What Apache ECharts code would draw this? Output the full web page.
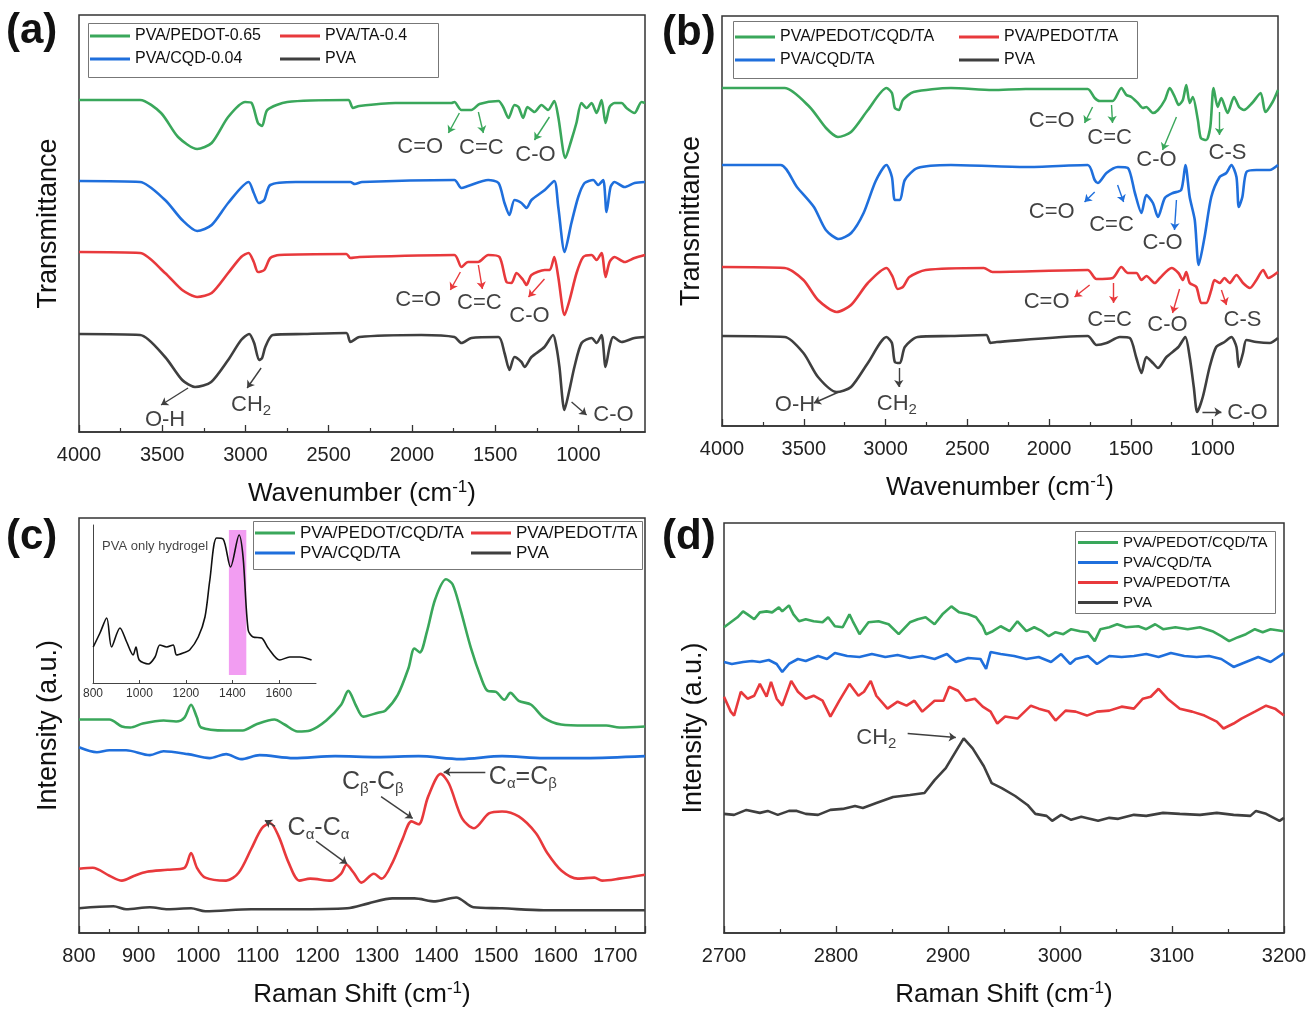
<!DOCTYPE html>
<html>
<head>
<meta charset="utf-8">
<script src="https://cdn.jsdelivr.net/npm/echarts@6/dist/echarts.min.js"></script>
<style>
  html, body { margin: 0; padding: 0; background: #fff; }
  #chart { width: 1312px; height: 1011px; }
</style>
</head>
<body>
<div id="chart"></div>
<script>
// ---- (a) FTIR, y = height above x axis (px units)
const aGreen = [[4000,332],[3633,332],[3507,319],[3405,295],[3290,283],[3203,289],[3104,315],[3002,330],[2963,329],[2925,309],[2900,306],[2869,322],[2749,330],[2382,332],[2355,324],[2316,326],[2100,329],[1944,329],[1763,329],[1745,330],[1703,322],[1643,322],[1594,328],[1480,331],[1452,325],[1420,314],[1384,327],[1360,325],[1332,314],[1306,325],[1264,320],[1222,327],[1182,322],[1145,331],[1121,315],[1078,274],[1042,292],[1012,309],[982,329],[951,324],[921,329],[891,319],[861,332],[837,309],[813,325],[783,329],[741,329],[711,324],[663,319],[621,330],[600,329]]
const aBlue = [[4000,251],[3633,250],[3483,232],[3380,212],[3290,201],[3203,207],[3104,229],[2981,250],[2950,239],[2920,229],[2887,232],[2851,247],[2697,250],[2370,250],[2343,248],[2300,250],[1745,252],[1703,244],[1663,246],[1542,252],[1480,249],[1444,229],[1414,217],[1384,232],[1342,229],[1312,224],[1282,232],[1202,242],[1145,251],[1121,225],[1083,180],[1042,209],[1001,235],[963,249],[911,252],[881,247],[851,252],[831,220],[807,245],[783,250],[723,245],[663,249],[600,250]]
const aRed = [[4000,180],[3633,179],[3483,159],[3380,142],[3290,135],[3203,139],[3104,159],[3026,175],[2981,179],[2950,170],[2925,160],[2887,162],[2851,174],[2797,177],[2394,178],[2370,174],[2316,175],[1745,177],[1703,165],[1663,170],[1603,170],[1542,177],[1474,175],[1432,150],[1402,149],[1372,159],[1332,152],[1312,147],[1282,157],[1202,162],[1172,162],[1145,175],[1121,155],[1083,117],[1053,132],[1011,159],[971,175],[921,177],[891,172],[861,179],[837,155],[813,170],[783,175],[723,170],[663,174],[600,177]]
const aBlack = [[4000,98],[3633,97],[3483,75],[3380,52],[3303,45],[3206,50],[3104,72],[3026,92],[2978,98],[2948,89],[2918,72],[2900,74],[2881,85],[2836,97],[2647,98],[2394,99],[2370,90],[2316,95],[1944,97],[1745,95],[1703,89],[1643,94],[1480,95],[1444,79],[1414,62],[1384,75],[1342,70],[1324,65],[1282,75],[1204,85],[1152,97],[1132,85],[1114,65],[1084,22],[1054,42],[1024,65],[981,89],[921,94],[891,89],[861,97],[837,65],[813,85],[791,95],[741,90],[663,94],[600,95]]

// ---- (b) FTIR
const bGreen = [[4000,338],[3617,338],[3464,319],[3364,298],[3291,289],[3211,294],[3108,316],[2994,338],[2961,333],[2943,318],[2918,316],[2894,326],[2829,334],[2600,338],[2346,336],[2143,337],[1764,337],[1721,328],[1690,325],[1611,325],[1558,338],[1527,331],[1497,329],[1457,323],[1426,318],[1405,319],[1365,313],[1334,316],[1292,326],[1262,338],[1231,329],[1207,321],[1182,326],[1161,341],[1140,323],[1121,329],[1090,306],[1072,288],[1039,286],[1014,299],[994,338],[969,319],[947,328],[908,313],[869,329],[838,319],[808,316],[758,323],[706,333],[677,314],[633,324],[600,336]]
const bBlue = [[4000,261],[3642,261],[3542,239],[3438,219],[3365,196],[3286,187],[3210,193],[3134,213],[3060,245],[2994,261],[2961,249],[2943,226],[2912,226],[2882,246],[2804,258],[2600,261],[2143,259],[1764,261],[1721,246],[1702,243],[1649,253],[1579,259],[1518,258],[1475,233],[1435,213],[1405,231],[1365,223],[1334,209],[1292,228],[1243,233],[1192,236],[1166,261],[1140,229],[1109,206],[1085,161],[1049,189],[1008,229],[957,249],[916,253],[885,261],[854,249],[840,219],[818,229],[793,254],[732,256],[651,256],[600,261]]
const bRed = [[4000,159],[3617,158],[3502,146],[3413,126],[3299,114],[3211,121],[3108,143],[2994,158],[2956,149],[2926,137],[2894,139],[2854,149],[2754,156],[2399,158],[2346,154],[1764,156],[1710,147],[1611,148],[1558,159],[1518,153],[1466,153],[1435,146],[1405,150],[1353,143],[1322,148],[1251,158],[1209,153],[1182,146],[1161,154],[1140,143],[1099,139],[1069,123],[1039,123],[1008,136],[988,146],[957,143],[927,148],[896,143],[854,151],[814,143],[772,138],[732,146],[691,156],[659,148],[600,154]]
const bBlack = [[4000,90],[3617,89],[3502,73],[3413,49],[3299,34],[3211,39],[3108,63],[2994,89],[2961,83],[2943,64],[2912,63],[2882,79],[2804,89],[2600,90],[2384,91],[2358,83],[2320,84],[1764,90],[1710,81],[1649,83],[1567,89],[1506,88],[1466,68],[1435,53],[1405,69],[1365,63],[1334,58],[1282,69],[1209,79],[1167,89],[1140,69],[1115,39],[1094,14],[1060,29],[1018,59],[978,79],[927,84],[885,89],[854,79],[840,59],[814,73],[793,86],[732,84],[651,83],[600,88]]

// ---- (c) Raman 800-1750
const cGreen = [[800,216],[851,216],[872,209],[886,208],[907,212],[942,215],[963,214],[977,218],[988,231],[998,218],[1005,208],[1047,205],[1075,205],[1097,211],[1128,216],[1145,211],[1167,204],[1188,205],[1215,215],[1240,231],[1252,245],[1265,230],[1277,219],[1302,223],[1314,225],[1335,241],[1353,268],[1363,288],[1372,284],[1384,305],[1398,338],[1416,358],[1427,353],[1440,328],[1458,288],[1475,258],[1486,245],[1500,244],[1514,236],[1524,243],[1538,235],[1559,231],[1580,218],[1609,211],[1650,210],[1685,210],[1707,208],[1750,209]]
const cBlue = [[800,188],[830,183],[851,185],[879,185],[919,180],[942,184],[983,181],[1019,177],[1047,181],[1072,176],[1103,180],[1160,177],[1230,179],[1300,178],[1370,179],[1440,176],[1510,179],[1580,177],[1650,177],[1750,179]]
const cRed = [[800,65],[823,66],[851,58],[872,53],[893,58],[914,62],[949,64],[977,66],[988,81],[998,66],[1012,56],[1047,53],[1068,61],[1089,85],[1107,106],[1121,111],[1135,98],[1152,71],[1170,53],[1188,55],[1223,53],[1240,60],[1249,69],[1261,61],[1274,51],[1295,60],[1308,55],[1326,71],[1343,95],[1358,113],[1370,110],[1386,138],[1407,161],[1421,151],[1443,116],[1463,106],[1488,121],[1510,123],[1538,118],[1567,101],[1586,81],[1610,63],[1637,55],[1665,56],[1678,53],[1707,55],[1750,59]]
const cBlack = [[800,25],[858,27],[879,24],[919,26],[949,24],[988,25],[1012,22],[1089,24],[1160,24],[1250,25],[1286,30],[1326,35],[1363,35],[1398,32],[1433,36],[1462,26],[1510,25],[1580,23],[1750,23]]

// inset of (c): PVA only hydrogel
const insetPVA = [[801,36],[830,50],[859,65],[880,36],[916,55],[945,41],[973,28],[985,36],[999,23],[1038,19],[1067,26],[1088,38],[1117,36],[1145,38],[1160,28],[1188,30],[1216,33],[1253,46],[1282,66],[1303,103],[1332,145],[1360,144],[1392,116],[1429,148],[1446,126],[1468,53],[1489,46],[1526,45],[1554,35],[1604,23],[1647,26],[1690,26],[1741,23]]
const insetBand = [1385, 1460]

// ---- (d) Raman 2700-3200
const dGreen = [[2700,308],[2706,313],[2712,318],[2717,324],[2721,321],[2727,316],[2732,323],[2738,324],[2743,323],[2749,328],[2752,324],[2758,330],[2762,321],[2767,314],[2773,316],[2780,314],[2788,313],[2793,318],[2799,309],[2806,308],[2812,321],[2815,314],[2821,301],[2829,313],[2838,314],[2847,311],[2856,301],[2866,313],[2873,316],[2880,318],[2888,311],[2895,321],[2903,329],[2910,323],[2918,321],[2925,318],[2931,309],[2934,301],[2940,304],[2947,309],[2955,304],[2962,314],[2970,304],[2977,308],[2984,304],[2990,299],[2996,303],[3003,301],[3010,306],[3018,304],[3025,303],[3031,294],[3036,306],[3044,308],[3051,311],[3059,308],[3070,309],[3077,306],[3085,311],[3092,306],[3103,308],[3114,306],[3125,308],[3136,304],[3144,299],[3151,294],[3159,298],[3166,301],[3174,306],[3181,303],[3188,306],[3200,304]]
const dBlue = [[2700,273],[2707,271],[2717,273],[2725,274],[2732,273],[2740,275],[2747,271],[2752,263],[2758,271],[2766,276],[2773,274],[2784,279],[2792,276],[2799,282],[2810,279],[2821,278],[2832,281],[2844,278],[2855,280],[2866,277],[2877,279],[2888,276],[2899,281],[2907,273],[2918,277],[2929,276],[2934,266],[2938,283],[2947,281],[2959,279],[2970,276],[2981,278],[2992,273],[3001,281],[3009,271],[3014,276],[3025,279],[3033,271],[3044,279],[3055,278],[3066,279],[3077,281],[3088,278],[3099,282],[3111,279],[3122,278],[3133,279],[3144,276],[3155,268],[3166,273],[3177,278],[3188,273],[3200,282]]
const dRed = [[2700,238],[2706,223],[2709,219],[2715,243],[2721,236],[2727,239],[2732,251],[2738,238],[2742,253],[2747,236],[2752,229],[2760,254],[2766,243],[2773,236],[2780,239],[2788,234],[2795,218],[2803,234],[2812,251],[2820,239],[2825,243],[2831,254],[2836,239],[2846,226],[2855,233],[2863,229],[2870,234],[2877,223],[2888,234],[2896,234],[2901,248],[2909,244],[2916,234],[2924,236],[2931,228],[2938,223],[2944,211],[2951,218],[2962,216],[2974,229],[2981,226],[2990,223],[2996,214],[3005,224],[3014,223],[3024,219],[3033,223],[3044,224],[3055,228],[3066,226],[3074,236],[3081,238],[3088,246],[3096,236],[3107,226],[3118,223],[3129,219],[3140,213],[3146,206],[3155,211],[3162,216],[3174,223],[3184,229],[3192,226],[3200,219]]
const dBlack = [[2700,120],[2709,119],[2720,124],[2732,121],[2739,123],[2748,119],[2758,123],[2765,123],[2773,120],[2784,119],[2795,124],[2806,125],[2817,128],[2824,126],[2836,131],[2851,137],[2866,139],[2879,141],[2888,154],[2898,166],[2907,183],[2914,196],[2922,186],[2932,168],[2939,151],[2948,146],[2960,138],[2971,129],[2978,120],[2988,118],[2993,113],[3001,119],[3010,114],[3019,117],[3034,113],[3044,116],[3052,115],[3066,119],[3077,118],[3092,121],[3107,120],[3125,119],[3140,121],[3155,119],[3170,118],[3175,123],[3184,120],[3196,113],[3200,116]]

// ---- tick labels
const ftirTicks = [1000, 1500, 2000, 2500, 3000, 3500, 4000]
const ftirMinor = [750, 1250, 1750, 2250, 2750, 3250, 3750]

// ---- annotations: [x, y, text] and arrows [[x1,y1],[x2,y2], colour key]
const aNotes = [[1950,285,'C=O'],[1583,284,'C=C'],[1258,277,'C-O'],[1962,132,'C=O'],[1595,129,'C=C'],[1294,116,'C-O'],[3483,12,'O-H'],[2966,27,'CH{s|2}'],[789,17,'C-O']]
const aArrows = [[[1715,319],[1781,299],'green'],[[1601,320],[1571,299],'green'],[[1174,315],[1264,292],'green'],[[1709,160],[1769,142],'red'],[[1601,167],[1577,143],'red'],[[1204,153],[1300,135],'red'],[[3345,44],[3507,27],'black'],[[2906,64],[2990,44],'black'],[[1041,30],[951,17],'black']]
const bNotes = [[1984,305,'C=O'],[1630,288,'C=C'],[1343,266,'C-O'],[909,273,'C-S'],[1984,214,'C=O'],[1618,201,'C=C'],[1306,183,'C-O'],[2015,124,'C=O'],[1630,106,'C=C'],[1276,101,'C-O'],[817,106,'C-S'],[3554,21,'O-H'],[2931,22,'CH{s|2}'],[787,13,'C-O']]
const bArrows = [[[1734,319],[1783,303],'green'],[[1618,321],[1612,303],'green'],[[1221,309],[1306,276],'green'],[[958,314],[958,291],'green'],[[1721,234],[1783,224],'blue'],[[1581,241],[1544,224],'blue'],[[1221,226],[1233,196],'blue'],[[1752,141],[1844,129],'red'],[[1605,143],[1605,123],'red'],[[1202,137],[1245,113],'red'],[[946,136],[915,121],'red'],[[3286,34],[3438,23],'black'],[[2919,58],[2919,39],'black'],[[1062,14],[946,14],'black']]
const cNotes = [[1202,106,'C{s|α}-C{s|α}'],[1293,153,'C{s|β}-C{s|β}'],[1545,158,'C{s|α}=C{s|β}']]
const cArrows = [[[1129,108],[1112,114],'black'],[[1198,93],[1250,70],'black'],[[1307,138],[1360,116],'black'],[[1482,163],[1412,163],'black']]
const insetNotes = [[1067,137,'PVA only hydrogel']]
const dNotes = [[2836,196,'CH{s|2}']]
const dArrows = [[[2864,201],[2907,197],'black']]

const COLORS = { green: '#3aa75b', blue: '#1f6fdc', red: '#e8393c', black: '#3f3f3f' }
const FONT = '"Liberation Sans", Arial, sans-serif'
const N = { g: 'PVA/PEDOT/CQD/TA', b: 'PVA/CQD/TA', r: 'PVA/PEDOT/TA', k: 'PVA' }

const chart = echarts.init(document.getElementById('chart'))

const line = (name, data, color, gi, smooth) => ({
  type: 'line', name, data, xAxisIndex: gi, yAxisIndex: gi,
  symbol: 'none', showSymbol: false, smooth: smooth,
  lineStyle: { width: 2.6, color }, itemStyle: { color }, z: 3
})

const RICH = {
  s: { fontSize: 15, lineHeight: 15, verticalAlign: 'bottom', fontFamily: FONT, color: '#111' }
}
const notes = (data, gi, size) => ({
  type: 'scatter', xAxisIndex: gi, yAxisIndex: gi, data, symbolSize: 0, silent: true, z: 6,
  label: { show: true, position: 'inside', formatter: p => p.value[2], fontSize: size, lineHeight: size + 4, color: '#111', fontFamily: FONT, rich: RICH }
})
const arrows = (data, gi) => ({
  type: 'lines', coordinateSystem: 'cartesian2d', xAxisIndex: gi, yAxisIndex: gi, silent: true, z: 6,
  symbol: ['none', 'arrow'], symbolSize: 7,
  lineStyle: { width: 1.4, opacity: 1 },
  data: data.map(a => ({ coords: [a[0], a[1]], lineStyle: { color: COLORS[a[2]] } }))
})

const plain = v => String(v)
const axisTxt = { fontSize: 20, color: '#222', fontFamily: FONT, formatter: plain }
const nameTxt = {
  fontSize: 26, color: '#111', fontFamily: FONT, lineHeight: 30,
  rich: { sup: { fontSize: 17, lineHeight: 17, verticalAlign: 'top', fontFamily: FONT, color: '#111' } }
}
const axLine = { show: true, onZero: false, lineStyle: { color: '#333', width: 1.5 } }

const ftirX = (gi) => ({
  gridIndex: gi, type: 'value', min: 600, max: 4000, inverse: true,
  axisLine: axLine,
  axisTick: { inside: true, length: 7, customValues: ftirTicks, lineStyle: { color: '#333', width: 1.3 } },
  axisLabel: { customValues: ftirTicks, margin: 13, ...axisTxt },
  splitLine: { show: false },
  name: 'Wavenumber (cm{sup|-1})', nameLocation: 'middle', nameGap: 47, nameTextStyle: nameTxt
})
const ftirMinorX = (gi) => ({
  gridIndex: gi, type: 'value', min: 600, max: 4000, inverse: true, position: 'bottom',
  axisLine: { show: false },
  axisTick: { show: true, inside: true, length: 4, customValues: ftirMinor, lineStyle: { color: '#333', width: 1.2 } },
  axisLabel: { show: false, customValues: ftirMinor },
  splitLine: { show: false }
})
const ramanX = (gi, min, max) => ({
  gridIndex: gi, type: 'value', min, max, interval: 100,
  axisLine: axLine,
  axisTick: { inside: true, length: 7, lineStyle: { color: '#333', width: 1.3 } },
  minorTick: { show: true, splitNumber: 2, length: 4, lineStyle: { color: '#333', width: 1.2 } },
  axisLabel: { margin: 13, showMaxLabel: max % 100 === 0, ...axisTxt },
  splitLine: { show: false },
  name: 'Raman Shift (cm{sup|-1})', nameLocation: 'middle', nameGap: 47, nameTextStyle: nameTxt
})
const hiddenY = (gi, max, name) => ({
  gridIndex: gi, type: 'value', min: 0, max,
  axisLine: { show: false }, axisTick: { show: false }, axisLabel: { show: false }, splitLine: { show: false },
  name, nameLocation: 'middle', nameGap: 17,
  nameTextStyle: { fontSize: 27, color: '#111', fontFamily: FONT }
})

const legendBase = {
  orient: 'vertical', padding: 0, icon: 'rect', itemWidth: 40, itemHeight: 3, selectedMode: false,
  textStyle: { fontSize: 16, lineHeight: 18, color: '#111', fontFamily: FONT }
}
const box = (x, y, w, h) => ({
  type: 'rect', left: x, top: y, shape: { width: w, height: h }, silent: true,
  style: { fill: 'rgba(0,0,0,0)', stroke: '#777', lineWidth: 1 }
})
const panelLabel = (txt, x, y) => ({
  type: 'text', left: x, top: y, silent: true,
  style: { text: txt, font: 'bold 42px "Liberation Sans", Arial, sans-serif', fill: '#111' }
})

const frame = { show: true, borderColor: '#333', borderWidth: 1.5, backgroundColor: 'rgba(0,0,0,0)' }

const option = {
  backgroundColor: '#fff',
  animation: false,
  grid: [
    { left: 79, top: 15, width: 566, height: 417, ...frame },
    { left: 722, top: 16, width: 556, height: 410, ...frame },
    { left: 79, top: 518, width: 566, height: 420, ...frame },
    { left: 724, top: 523, width: 560, height: 413, ...frame },
    { left: 93, top: 525, width: 223, height: 158, show: false }
  ],
  xAxis: [
    ftirX(0), ftirX(1), ramanX(2, 800, 1750), ramanX(3, 2700, 3200),
    {
      gridIndex: 4, type: 'value', min: 800, max: 1760, interval: 200,
      axisLine: { show: true, onZero: false, lineStyle: { color: '#444', width: 1 } },
      axisTick: { inside: true, length: 3, lineStyle: { color: '#444' } },
      axisLabel: { showMaxLabel: false, margin: 5, fontSize: 12, color: '#333', fontFamily: FONT, formatter: plain },
      splitLine: { show: false }
    },
    ftirMinorX(0), ftirMinorX(1)
  ],
  yAxis: [
    hiddenY(0, 417, 'Transmittance'),
    hiddenY(1, 410, 'Transmittance'),
    hiddenY(2, 420, 'Intensity (a.u.)'),
    hiddenY(3, 413, 'Intensity (a.u.)'),
    {
      gridIndex: 4, type: 'value', min: 0, max: 158,
      axisLine: { show: true, lineStyle: { color: '#444', width: 1 } },
      axisTick: { show: false }, axisLabel: { show: false }, splitLine: { show: false }
    }
  ],
  legend: [
    { ...legendBase, left: 90, top: 27, itemGap: 5, data: ['PVA/PEDOT-0.65', 'PVA/CQD-0.04'] },
    { ...legendBase, left: 280, top: 27, itemGap: 5, data: ['PVA/TA-0.4', 'PVA'] },
    { ...legendBase, left: 735, top: 28, itemGap: 5, data: [N.g, N.b] },
    { ...legendBase, left: 959, top: 28, itemGap: 5, data: [N.r, N.k] },
    { ...legendBase, left: 255, top: 524, itemGap: 2, data: [N.g, N.b], textStyle: { ...legendBase.textStyle, fontSize: 17 } },
    { ...legendBase, left: 471, top: 524, itemGap: 2, data: [N.r, N.k], textStyle: { ...legendBase.textStyle, fontSize: 17 } },
    { ...legendBase, left: 1078, top: 534, itemGap: 3, data: [N.g, N.b, N.r, N.k], textStyle: { ...legendBase.textStyle, fontSize: 15, lineHeight: 17 } }
  ],
  graphic: [
    box(88, 23, 350, 54), box(733, 21, 404, 57), box(253, 521, 389, 48), box(1075, 531, 200, 82),
    panelLabel('(a)', 6, 10), panelLabel('(b)', 662, 12), panelLabel('(c)', 6, 516), panelLabel('(d)', 662, 516)
  ],
  series: [
    line('PVA/PEDOT-0.65', aGreen, COLORS.green, 0, 0.25),
    line('PVA/CQD-0.04', aBlue, COLORS.blue, 0, 0.25),
    line('PVA/TA-0.4', aRed, COLORS.red, 0, 0.25),
    line('PVA', aBlack, COLORS.black, 0, 0.25),
    line(N.g, bGreen, COLORS.green, 1, 0.25),
    line(N.b, bBlue, COLORS.blue, 1, 0.25),
    line(N.r, bRed, COLORS.red, 1, 0.25),
    line(N.k, bBlack, COLORS.black, 1, 0.25),
    line(N.g, cGreen, COLORS.green, 2, 0.3),
    line(N.b, cBlue, COLORS.blue, 2, 0.3),
    line(N.r, cRed, COLORS.red, 2, 0.3),
    line(N.k, cBlack, COLORS.black, 2, 0.3),
    {
      ...line('PVA only hydrogel', insetPVA, '#111', 4, 0.3),
      lineStyle: { width: 1.6, color: '#111' },
      markArea: {
        silent: true, itemStyle: { color: '#f08cf0', opacity: 0.85 },
        data: [[{ xAxis: insetBand[0], yAxis: 8 }, { xAxis: insetBand[1], yAxis: 153 }]]
      }
    },
    line(N.g, dGreen, COLORS.green, 3, false),
    line(N.b, dBlue, COLORS.blue, 3, false),
    line(N.r, dRed, COLORS.red, 3, false),
    line(N.k, dBlack, COLORS.black, 3, false),
    notes(aNotes, 0, 22), arrows(aArrows, 0),
    notes(bNotes, 1, 22), arrows(bArrows, 1),
    notes(cNotes, 2, 25), arrows(cArrows, 2),
    notes(insetNotes, 4, 13),
    notes(dNotes, 3, 22), arrows(dArrows, 3)
  ]
}

chart.setOption(option)
</script>
</body>
</html>
